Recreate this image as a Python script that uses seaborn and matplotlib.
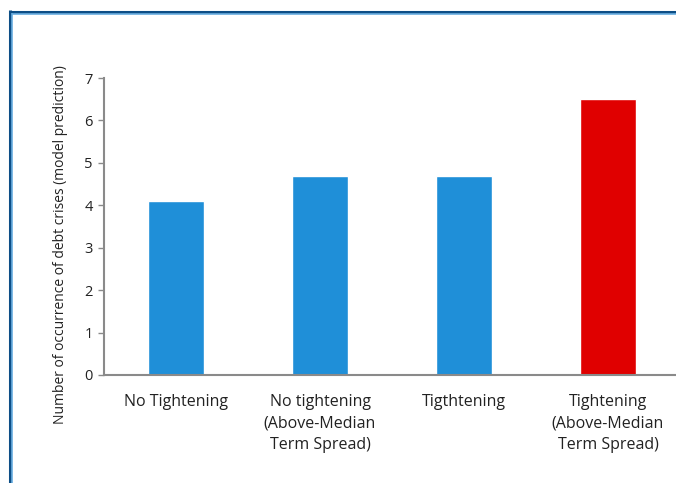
import matplotlib
matplotlib.use("Agg")
import matplotlib.pyplot as plt
import seaborn as sns
import pandas as pd
from matplotlib.lines import Line2D

categories = ["No Tightening", "No tightening\n(Above-Median\nTerm Spread)",
              "Tigthtening", "Tightening\n(Above-Median\nTerm Spread)"]
values = [4.1, 4.7, 4.7, 6.5]
colors = ["#1f8fd8", "#1f8fd8", "#1f8fd8", "#e00000"]
y_ticks = [0, 1, 2, 3, 4, 5, 6, 7]

sns.set_style("white")
plt.rcParams["font.family"] = ["Open Sans", "DejaVu Sans"]

W, H = 676, 483
fig = plt.figure(figsize=(W / 100, H / 100), dpi=100)
ax = fig.add_axes([104 / W, (H - 375) / H, (680 - 104) / W, (375 - 78) / H])

df = pd.DataFrame({"cat": categories, "val": values})
sns.barplot(data=df, x="cat", y="val", hue="cat", palette=colors,
            width=0.39, legend=False, ax=ax, saturation=1)

ax.set_xlim(-0.5, 3.5)
ax.set_ylim(0, 7)
ax.set_yticks(y_ticks)
ax.set_xticks(range(len(categories)))
ax.set_xticklabels(categories, fontsize=11.5, color="#222222", linespacing=1.45)
ax.set_xticks([-0.5, 0.5, 1.5, 2.5, 3.5], minor=True)
ax.tick_params(axis="x", which="major", length=0, pad=14)
ax.tick_params(axis="x", which="minor", length=5, width=1, color="#8a8a8a", direction="out")
ax.tick_params(axis="y", length=4, width=1, color="#8a8a8a", direction="out",
               labelsize=10.5, labelcolor="#222222", pad=4)
ax.tick_params(left=True)

for s in ["top", "right"]:
    ax.spines[s].set_visible(False)
for s in ["left", "bottom"]:
    ax.spines[s].set_color("#8a8a8a")
    ax.spines[s].set_linewidth(1.5)

ax.set_xlabel("")
ax.set_ylabel("Number of occurrence of debt crises (model prediction)",
              fontsize=10, color="#222222")
ax.yaxis.set_label_coords(-0.062, 0.44)

# blue frame (top and left)
dark = "#0d4e86"
light = "#6aaee0"
fig.add_artist(Line2D([9.5 / W, 9.5 / W], [0, 1 - 10 / H], color=dark, lw=2.2,
                      transform=fig.transFigure, solid_capstyle="butt"))
fig.add_artist(Line2D([9.5 / W, 1], [1 - 11.5 / H, 1 - 11.5 / H], color=dark, lw=2.2,
                      transform=fig.transFigure, solid_capstyle="butt"))
fig.add_artist(Line2D([12 / W, 12 / W], [0, 1 - 13 / H], color=light, lw=1.2,
                      transform=fig.transFigure, solid_capstyle="butt"))
fig.add_artist(Line2D([12 / W, 1], [1 - 14 / H, 1 - 14 / H], color=light, lw=1.2,
                      transform=fig.transFigure, solid_capstyle="butt"))

fig.savefig("out.png", dpi=100)
